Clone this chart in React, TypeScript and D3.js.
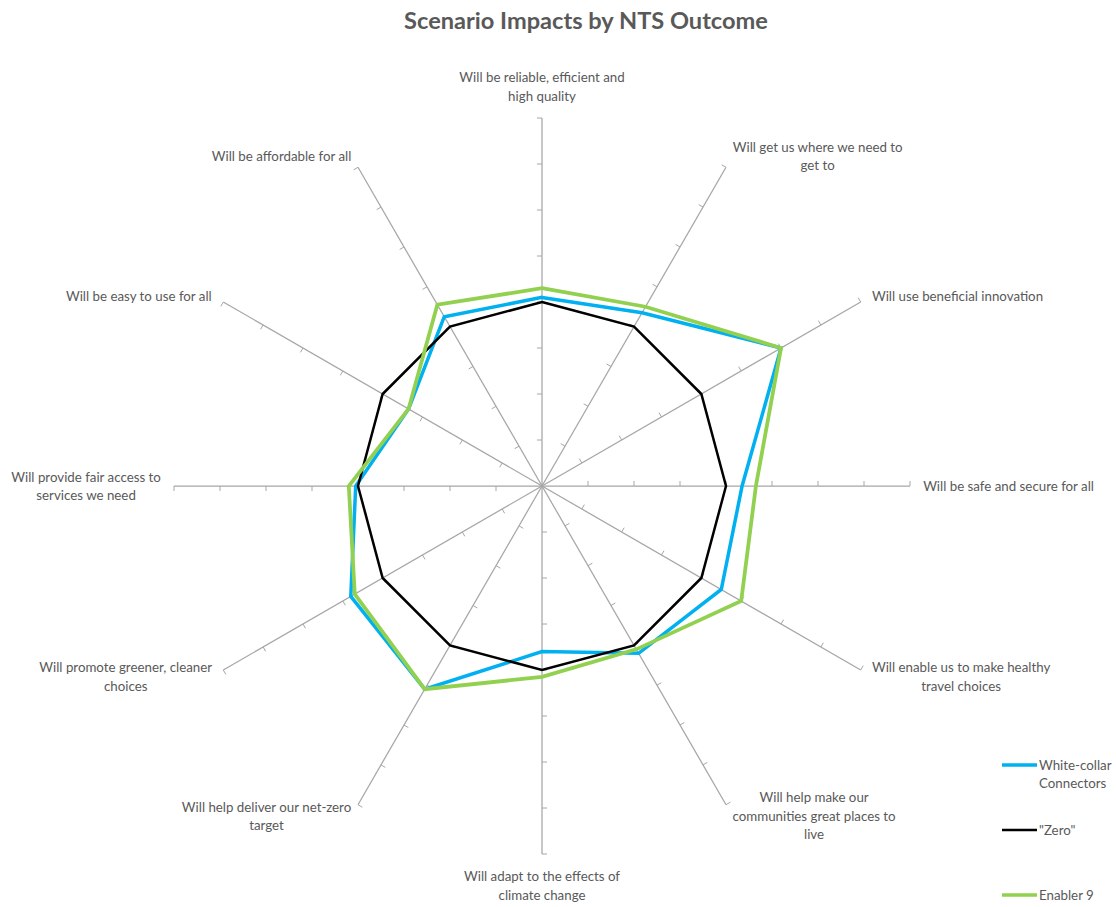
import React, { useMemo } from 'react';
import * as d3 from 'd3';

// NTS outcomes, clockwise from the top; each entry is the wrapped label lines
const outcomes: string[][] = [
  ['Will be reliable, efficient and', 'high quality'],
  ['Will get us where we need to', 'get to'],
  ['Will use beneficial innovation'],
  ['Will be safe and secure for all'],
  ['Will enable us to make healthy', 'travel choices'],
  ['Will help make our', 'communities great places to', 'live'],
  ['Will adapt to the effects of', 'climate change'],
  ['Will help deliver our net-zero', 'target'],
  ['Will promote greener, cleaner', 'choices'],
  ['Will provide fair access to', 'services we need'],
  ['Will be easy to use for all'],
  ['Will be affordable for all'],
];

const seriesNames = ['White-collar Connectors', '"Zero"', 'Enabler 9'];
const whiteCollar = [0.1, 0.35, 2.0, 0.35, 0.5, 0.2, -0.4, 1.1, 0.8, 0.05, -0.65, 0.25];
const zeroScenario = [0, 0, 0, 0, 0, 0, 0, 0, 0, 0, 0, 0];
const enabler9 = [0.3, 0.5, 2.0, 0.65, 1.0, 0.1, 0.15, 1.1, 0.7, 0.2, -0.65, 0.55];

const axisMin = -4;
const axisMax = 4;
const tickValues = [-3, -2, -1, 0, 1, 2, 3, 4];

const W = 1116;
const H = 907;
const cx = 542;
const cy = 486;
const R = 368;
const TEXT = '#595959';
const LABEL_FONT = 'Lato, "Open Sans", sans-serif';
const LABEL_SIZE = 13.3;
const LINE_H = 18.5;

const seriesStyles = [
  { color: '#00B0F0', width: 3.5 },
  { color: '#000000', width: 2.5 },
  { color: '#92D050', width: 3.75 },
];

export default function App() {
  const r = d3.scaleLinear().domain([axisMin, axisMax]).range([0, R]);
  const step = (2 * Math.PI) / outcomes.length;
  const seriesData = [whiteCollar, zeroScenario, enabler9];

  const measure = useMemo(() => {
    const ctx = document.createElement('canvas').getContext('2d')!;
    ctx.font = `${LABEL_SIZE}px ${LABEL_FONT}`;
    return (s: string) => ctx.measureText(s).width;
  }, []);

  const radial = d3
    .lineRadial<number>()
    .angle((_, i) => i * step)
    .radius((d) => r(d))
    .curve(d3.curveLinearClosed);

  const axes = outcomes.map((lines, i) => {
    const a = i * step;
    const dx = Math.sin(a);
    const dy = -Math.cos(a);
    const ex = cx + R * dx;
    const ey = cy + R * dy;
    const gap = 13;
    const px = ex + dx * gap;
    const py = ey + dy * gap;
    const w = Math.max(...lines.map(measure));
    const h = lines.length * LINE_H;
    let bx = px;
    if (dx > 0.1) bx = px + w / 2;
    else if (dx < -0.1) bx = px - w / 2;
    let by = py;
    if (Math.abs(dy) > 0.99) by = py + Math.sign(dy) * (h / 2);
    const ticks = tickValues.map((v) => {
      const rr = r(v);
      const tx = cx + rr * dx;
      const ty = cy + rr * dy;
      return { x1: tx, y1: ty, x2: tx + dy * 5, y2: ty - dx * 5 };
    });
    return { i, lines, ex, ey, bx, by, h, ticks };
  });

  return (
    <svg
      width={W}
      height={H}
      style={{ position: 'absolute', left: 0, top: 0, background: '#fff' }}
      fontFamily={LABEL_FONT}
    >
      <text
        x={586}
        y={20}
        textAnchor="middle"
        dominantBaseline="central"
        fontSize={23.6}
        fontWeight="bold"
        fill={TEXT}
      >
        Scenario Impacts by NTS Outcome
      </text>

      <g>
        {axes.map((ax) => (
          <g key={ax.i}>
            <line x1={cx} y1={cy} x2={ax.ex} y2={ax.ey} stroke="#a6a6a6" strokeWidth={1.25} />
            {ax.ticks.map((t, k) => (
              <line key={k} x1={t.x1} y1={t.y1} x2={t.x2} y2={t.y2} stroke="#a6a6a6" strokeWidth={1} />
            ))}
            {ax.lines.map((ln, k) => (
              <text
                key={k}
                x={ax.bx}
                y={ax.by - ax.h / 2 + LINE_H * (k + 0.5)}
                textAnchor="middle"
                dominantBaseline="central"
                fontSize={LABEL_SIZE}
                fill={TEXT}
              >
                {ln}
              </text>
            ))}
          </g>
        ))}
      </g>

      <g transform={`translate(${cx},${cy})`}>
        {seriesData.map((vals, s) => (
          <path
            key={s}
            d={radial(vals) || ''}
            fill="none"
            stroke={seriesStyles[s].color}
            strokeWidth={seriesStyles[s].width}
            strokeLinejoin="miter"
          />
        ))}
      </g>

      <g fontSize={LABEL_SIZE} fill={TEXT}>
        {[
          { y: 765, lines: ['White-collar', 'Connectors'] },
          { y: 830, lines: [seriesNames[1]] },
          { y: 895, lines: [seriesNames[2]] },
        ].map((item, s) => (
          <g key={s}>
            <line
              x1={1002}
              x2={1037}
              y1={item.y}
              y2={item.y}
              stroke={seriesStyles[s].color}
              strokeWidth={s === 1 ? 2.5 : 3.5}
            />
            {item.lines.map((ln, k) => (
              <text key={k} x={1039} y={item.y + k * 18} dominantBaseline="central">
                {ln}
              </text>
            ))}
          </g>
        ))}
      </g>
    </svg>
  );
}
